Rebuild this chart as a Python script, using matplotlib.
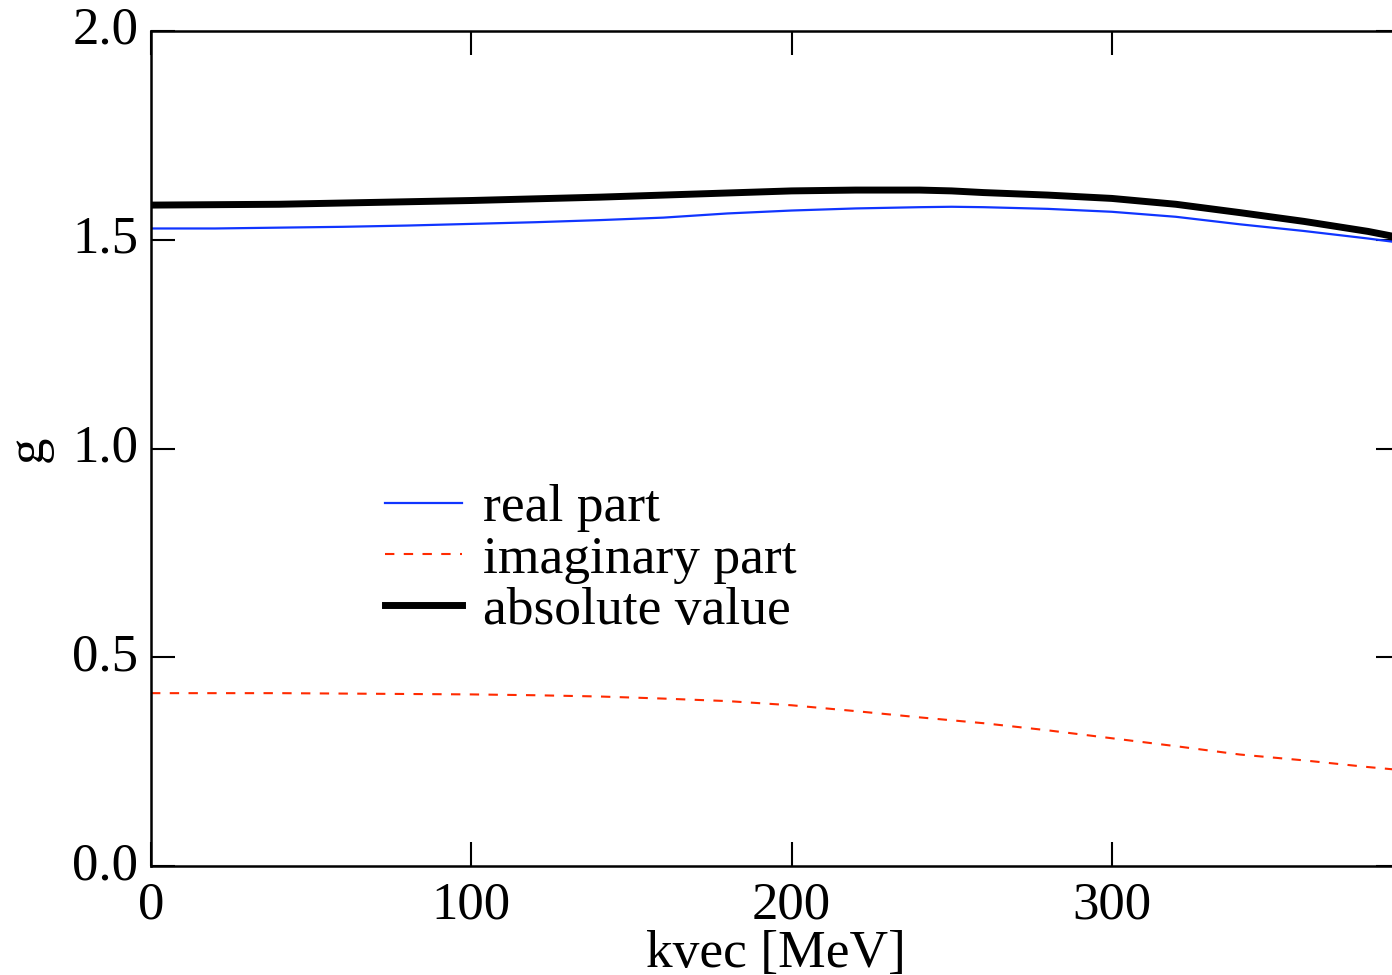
import matplotlib
matplotlib.use("Agg")
import matplotlib.pyplot as plt

# data
kvec = [0, 20, 40, 60, 80, 100, 120, 140, 160, 180, 200, 220, 240, 250, 260,
        280, 300, 320, 340, 360, 380, 390]
real_part = [1.527, 1.527, 1.529, 1.531, 1.534, 1.538, 1.542, 1.547, 1.553, 1.563,
             1.570, 1.575, 1.578, 1.579, 1.578, 1.574, 1.567, 1.555, 1.537, 1.521,
             1.503, 1.493]
imag_part = [0.414, 0.414, 0.414, 0.413, 0.412, 0.411, 0.409, 0.406, 0.401, 0.395,
             0.385, 0.371, 0.356, 0.349, 0.342, 0.325, 0.306, 0.287, 0.267, 0.253,
             0.237, 0.230]
abs_value = [1.583, 1.584, 1.585, 1.588, 1.591, 1.594, 1.598, 1.602, 1.607, 1.612,
             1.617, 1.619, 1.619, 1.617, 1.613, 1.607, 1.599, 1.585, 1.565, 1.544,
             1.520, 1.505]
xticks = [0, 100, 200, 300]
yticks = [0.0, 0.5, 1.0, 1.5, 2.0]

plt.rcParams['font.family'] = ['Liberation Serif', 'DejaVu Serif']

W, H = 1392, 975
fig = plt.figure(figsize=(W / 100, H / 100), dpi=100)
ax = fig.add_axes([151 / W, 1 - 866 / H, (1400 - 151) / W, 835 / H])

ax.plot(kvec, real_part, color='#1035ff', lw=1.6, label='real part')
ax.plot(kvec, imag_part, color='#ff2a00', lw=1.5, dashes=(4.5, 4.5), label='imaginary part')
ax.plot(kvec, abs_value, color='black', lw=5, label='absolute value')

ax.set_xlim(0, 390)
ax.set_ylim(0, 2.0)
ax.set_xticks(xticks)
ax.set_xticklabels([str(t) for t in xticks])
ax.set_yticks(yticks)
ax.set_yticklabels([f"{t:.1f}" for t in yticks])
for lbl in ax.get_yticklabels():
    lbl.set_va('center')

ax.tick_params(direction='in', length=17, width=1.5, top=True, right=True,
               labelsize=38)
ax.tick_params(axis='x', pad=11.5)
ax.tick_params(axis='y', pad=9)
for s in ax.spines.values():
    s.set_linewidth(1.8)

ax.set_xlabel('kvec [MeV]', fontsize=38.5, labelpad=0)
ax.set_ylabel('g', fontsize=38, labelpad=14)

leg = ax.legend(loc='upper left', bbox_to_anchor=(0.187, 0.4575), frameon=False,
                fontsize=38.5, handlelength=1.45, handletextpad=0.4,
                labelspacing=0.05, borderpad=0, borderaxespad=0)

fig.savefig('out.png', dpi=100)
